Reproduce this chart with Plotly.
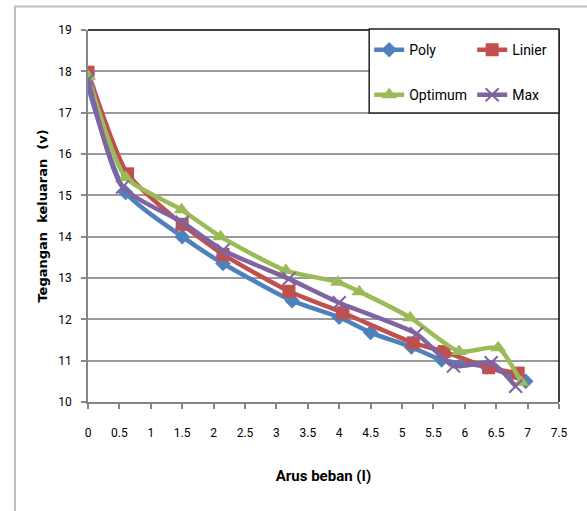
import plotly.graph_objects as go

poly_x = [0, 0.6, 1.5, 2.15, 3.25, 4.0, 4.5, 5.15, 5.63, 6.35, 6.97]
poly_y = [17.63, 15.07, 14.0, 13.35, 12.45, 12.05, 11.68, 11.33, 11.02, 10.85, 10.5]

lin_x = [0, 0.63, 1.5, 2.15, 3.2, 4.06, 5.18, 5.67, 6.38, 6.85]
lin_y = [17.98, 15.52, 14.3, 13.57, 12.68, 12.16, 11.43, 11.22, 10.83, 10.7]

opt_x = [0, 0.6, 1.49, 2.11, 3.15, 3.98, 4.32, 5.13, 5.91, 6.53, 6.9]
opt_y = [17.88, 15.43, 14.65, 14.0, 13.18, 12.9, 12.67, 12.04, 11.22, 11.31, 10.48]

max_x = [0, 0.55, 1.5, 2.15, 3.2, 4.0, 5.23, 5.82, 6.42, 6.81]
max_y = [17.8, 15.2, 14.35, 13.67, 12.98, 12.4, 11.65, 10.87, 10.95, 10.38]

x_ticks = [0, 0.5, 1, 1.5, 2, 2.5, 3, 3.5, 4, 4.5, 5, 5.5, 6, 6.5, 7, 7.5]
x_labels = ["0", "0.5", "1", "1.5", "2", "2.5", "3", "3.5", "4", "4.5", "5", "5.5", "6", "6.5", "7", "7.5"]
y_ticks = [10, 11, 12, 13, 14, 15, 16, 17, 18, 19]

FONT = "Roboto, Open Sans, sans-serif"

fig = go.Figure()

series = [
    ("Poly", poly_x, poly_y, "#4F81BD", "diamond", 12, "legend"),
    ("Linier", lin_x, lin_y, "#C0504D", "square", 13, "legend"),
    ("Optimum", opt_x, opt_y, "#9BBB59", "triangle-up", 14, "legend2"),
    ("Max", max_x, max_y, "#8064A2", "x-thin-open", 13, "legend2"),
]
for name, xs, ys, col, sym, sz, lg in series:
    marker = dict(symbol=sym, size=sz, color=col)
    if sym.endswith("open"):
        marker["line"] = dict(color=col, width=2)
    fig.add_trace(go.Scatter(
        x=xs, y=ys, name=name, mode="lines+markers",
        line=dict(color=col, width=4.5, shape="spline", smoothing=0.6),
        marker=marker, legend=lg,
    ))

# plot area top & right border in black, legend box, outer frame
fig.add_shape(type="line", xref="paper", yref="paper", x0=0, x1=1, y0=1, y1=1,
              line=dict(color="black", width=1.5))
fig.add_shape(type="line", xref="paper", yref="paper", x0=1, x1=1, y0=0, y1=1,
              line=dict(color="black", width=1.5))
fig.add_shape(type="rect", xref="paper", yref="paper", x0=0.597, x1=1.0, y0=0.777, y1=1.003,
              line=dict(color="#222", width=1.5), fillcolor="white", layer="above")
fig.add_shape(type="rect", xref="paper", yref="paper", x0=-0.155, x1=1.2, y0=-0.4, y1=1.063,
              line=dict(color="#BFBFBF", width=2), fillcolor="rgba(0,0,0,0)")

legend_common = dict(orientation="h", xanchor="left", yanchor="middle",
                     bgcolor="rgba(0,0,0,0)", borderwidth=0,
                     font=dict(family=FONT, size=14, color="black"),
                     entrywidth=58, itemwidth=30, tracegroupgap=0)

fig.update_layout(
    width=587, height=511,
    margin=dict(l=88, r=23, t=30, b=109),
    paper_bgcolor="white", plot_bgcolor="white",
    font=dict(family=FONT, color="black"),
    showlegend=True,
    legend=dict(x=0.597, y=0.946, **legend_common),
    legend2=dict(x=0.597, y=0.825, **legend_common),
    xaxis=dict(
        range=[0, 7.5], tickmode="array", tickvals=x_ticks, ticktext=x_labels,
        showgrid=False, zeroline=False, showline=True, linecolor="#868686", linewidth=1.5,
        ticks="outside", ticklen=5, tickcolor="#868686", tickwidth=1.5,
        tickfont=dict(family=FONT, size=12, color="black"), ticklabelstandoff=14,
        title=dict(text="Arus beban (I)", font=dict(family=FONT, size=15, color="black", weight="bold"),
                   standoff=31),
    ),
    yaxis=dict(
        range=[10, 19], tickmode="array", tickvals=y_ticks,
        showgrid=True, gridcolor="#9A9A9A", gridwidth=1.5, zeroline=False,
        showline=True, linecolor="#868686", linewidth=1.5,
        ticks="outside", ticklen=5, tickcolor="#868686", tickwidth=1.5,
        tickfont=dict(family=FONT, size=12, color="black"), ticklabelstandoff=7,
        title=dict(text="Tegangan  keluaran  (v)", font=dict(family="DejaVu Sans, Verdana, sans-serif", size=13, color="black", weight="bold"),
                   standoff=8),
    ),
)

fig.write_html("out.html")
